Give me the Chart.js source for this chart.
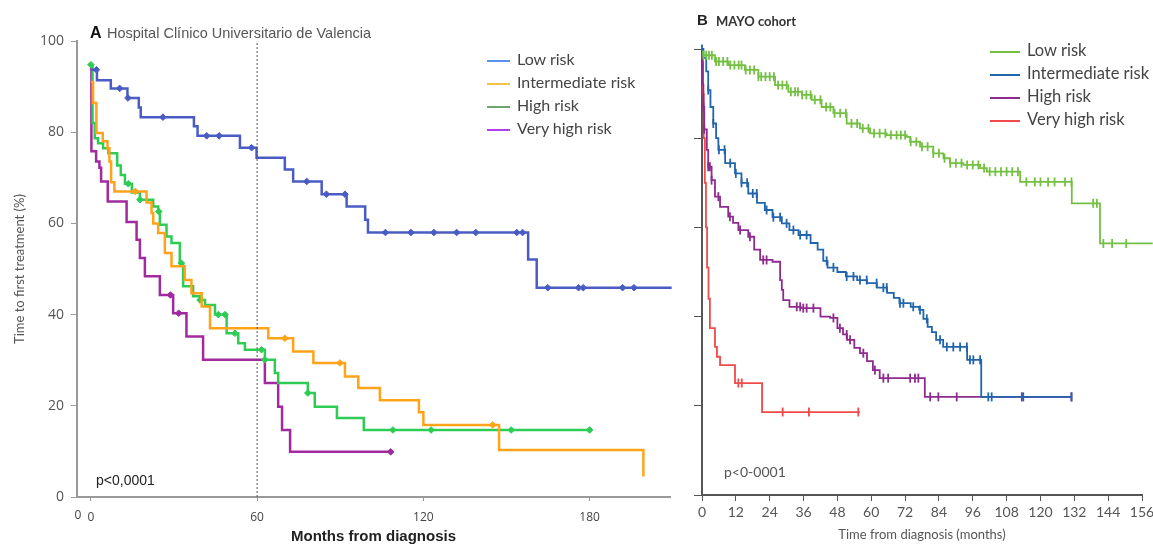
<!DOCTYPE html>
<html>
<head>
<meta charset="utf-8">
<script src="https://cdn.jsdelivr.net/npm/chart.js@4.4.1/dist/chart.umd.min.js"></script>
<style>
  body { margin: 0; background: #fff; width: 1153px; height: 546px; position: relative; overflow: hidden; }
  canvas { position: absolute; top: 0; }
  #chartA { left: 0; }
  #chartB { left: 683px; }
  .txt { position: absolute; white-space: nowrap; }
  .legend { position: absolute; font-family: Lato, sans-serif; color: #444; }
  .legend div { height: 23px; line-height: 23px; }
  .legend i { display: inline-block; height: 2px; vertical-align: middle; margin-right: 7px; }
</style>
</head>
<body>
<canvas id="chartA" width="683" height="546"></canvas>
<canvas id="chartB" width="480" height="546"></canvas>

<div class="txt" style="left:90px;top:24px;font:bold 16px 'Liberation Sans';color:#111">A</div>
<div class="txt" style="left:107px;top:25px;font:14.5px 'Liberation Sans';color:#555">Hospital Clínico Universitario de Valencia</div>
<div class="txt" style="left:96px;top:472px;font:14px 'Liberation Sans';color:#222">p&lt;0,0001</div>
<div class="legend" id="legendA" style="left:487px;top:47px;font-size:16px"></div>

<div class="txt" style="left:697px;top:11px;font:bold 15px 'Liberation Sans';color:#222">B</div>
<div class="txt" style="left:716px;top:13px;font:bold 13px Lato;color:#333">MAYO cohort</div>
<div class="txt" style="left:724px;top:463px;font:14px Lato;color:#555">p&lt;0-0001</div>
<div class="legend" id="legendB" style="left:990px;top:39px;font-size:16.5px"></div>

<script>
// Panel A: Hospital Clínico Universitario de Valencia, [month, % untreated]
const aLowSteps = [[0,93.7],[2.2,91.4],[7.2,89.6],[13.2,87.5],[17.3,85.4],[18,83.3],[37.2,81.3],[38.5,79.2],[53.8,76.6],[59.8,74.4],[70,71.8],[73,69.2],[83.3,66.4],[92.3,63.7],[99,60.8],[100,58],[157.8,52.1],[160.9,45.9],[209.6,45.9]];
const aLowCensored = [2,10.4,13.4,26,41.8,46.3,58,77.9,85,91.7,106.3,115.5,123.8,132,138.9,153.7,155.8,164.9,176,177.7,191.9,196];

const aIntSteps = [[0,91],[0.8,86.4],[2,79.8],[4.3,78],[6,76.5],[6.7,73.6],[7.3,69],[8.5,67],[20.1,64.6],[21.9,62.3],[22.5,60],[24.3,57.9],[26.7,53.5],[29.1,50.6],[33.9,47.6],[36.3,44.7],[40,41.8],[43,37],[64,34.8],[73,31.9],[80.3,29.4],[91.7,26.4],[96.5,23.9],[104.3,21.2],[118.4,18.6],[120,15.8],[147.3,10.3],[199.4,4.5]];
const aIntCensored = [16,70,89.9,145];

const aHighSteps = [[0,94.8],[0.6,82],[1.4,78.7],[2.6,77.6],[4.4,76.5],[6.3,75.4],[9.5,72.7],[10.8,70.6],[12.3,68.7],[14.8,66.8],[17.7,65.2],[22.5,63.7],[24.3,62.6],[24.9,59.7],[27.3,57.1],[29.1,55.7],[32.1,51.3],[33.3,46.2],[36.9,44],[39.4,43.2],[41.2,42.1],[44.8,40],[49,35.9],[53.2,33.7],[55.6,32.3],[62.8,30.1],[66.4,27.2],[67.6,25],[78.3,22.8],[80.8,19.8],[88.8,17.3],[98.5,14.7],[180.1,14.7]];
const aHighCensored = [0,13.5,17.7,24.5,32.6,39.4,46,48.4,52,61.6,62.8,78.3,109,122.8,151.7,180];

const aVeryHighSteps = [[0,94.5],[0.2,75.8],[1.9,73.6],[3.1,72.2],[3.7,69.2],[6.1,64.8],[12.9,60.3],[16.5,56.4],[17.7,52.4],[19.5,48.4],[24.9,44.3],[29.7,40.3],[34.5,35.2],[40.5,30.1],[62.8,25],[67.6,19.8],[69,14.7],[71.9,9.9],[108.2,9.9]];
const aVeryHighCensored = [28.7,31.7,108.2];

const aXTicks = [0, 60, 120, 180];
const aYTicks = [0, 20, 40, 60, 80, 100];
const aLandmark = 60;

// Panel B: MAYO cohort
const bLowSteps = [[0,99.4],[0.5,98.6],[4.6,97.2],[9.3,96.4],[15.2,95.3],[20,93.8],[25.9,91.9],[30.6,90.4],[35.4,89.7],[38.9,88.6],[42.4,87],[46.6,85.6],[51.3,83.3],[56,82.2],[59.6,81.1],[65.5,80.7],[72.6,80.3],[73.8,79.2],[77.3,78.1],[82,76.6],[85.6,75.5],[87.9,74.4],[92.7,74],[98.6,73.3],[101,72.5],[112.8,70.2],[131.1,65.4],[141.1,56.4],[159.8,56.4]];
const bLowCensored = [0.5,1.5,2.5,3.5,5,6,7.5,9,10,11.5,13,14,15.5,17,18.5,20,21,22.5,24,25.5,27,28.5,30,31.5,33,34,35.5,37,38.5,40,42,44,45.5,47,49,51,53,55,57,59,61,63,65,67,69,70.5,72,74,76,78,80,82,84,86,88,90,92,94,96,98,100,102,104,106,108,110,112,115,118,120,122.7,125,128.7,131,138.7,140,142.3,145.4,150.4];

const bIntSteps = [[0,100],[0.5,98],[1.5,95],[2.2,90.8],[3,87],[4,83.3],[5,80],[5.8,77.4],[8.2,74.4],[11.7,72.1],[14,70],[16.4,67.6],[19.5,65.5],[22.3,63.9],[25,62.3],[28.3,60.9],[31,59.4],[34.2,58.3],[38.5,56.5],[41,55],[43,52.5],[44.5,51],[48,50],[51,49],[55,48.2],[58.5,47.5],[62,46.5],[65.6,45.3],[68,44.2],[70,43],[74,42.2],[77,41.5],[78.5,39.5],[80,37.7],[81.5,36.5],[83,34.8],[85.5,33.2],[94,30.3],[99,22],[131,22]];
const bIntCensored = [0,2.2,4,6,8,10,12,14,16,18,19.4,22.9,25.3,27.7,30,32.4,34.8,37.1,44.2,46.6,51.3,53.7,56,58.4,61.9,64.3,65.5,70.2,71.4,74.9,77.3,79.7,84.4,86.8,89.1,91.5,93.9,95,96.2,98.6,101.5,102.7,113.9,131];

const bHighSteps = [[0,97],[0.3,92],[0.5,87],[0.8,82],[1.7,77.4],[2.2,73.6],[3.4,70.6],[4.6,66.9],[6.4,64.6],[9.3,62.4],[11,61],[12.9,59.4],[16.4,57.9],[18.5,55],[20.6,52.7],[25,52.3],[27.7,48.2],[28.3,46],[28.8,43.7],[31,42.2],[35,41.9],[42,40],[45.4,39.7],[48,37.4],[50,36],[51.4,34.8],[54,33],[56,31.8],[58.5,30],[60.6,28],[63,26.2],[79,22],[131,22]];
const bHighCensored = [0.1,0.5,0.8,2.2,2.8,3.4,5.8,9.9,13.5,17,21.7,22.9,33.6,34.8,35.9,37.1,39.5,46.6,48.9,51.3,52.5,57.2,61.3,64.3,66,73.8,75.5,76.7,80.9,83.8,90.3,113.4,131];

const bVeryHighSteps = [[0,100],[0.3,90],[0.6,80],[1,70],[1.4,60],[1.8,51],[2.3,44],[2.8,37.4],[4.6,33.2],[5.3,31],[6.4,29.1],[11.7,25.1],[21.3,18.6],[56,18.6]];
const bVeryHighCensored = [12.9,14.1,28.6,37.9,55.4];

const bXTicks = [0,12,24,36,48,60,72,84,96,108,120,132,144,156];
const bYTicks = [0, 20, 40, 60, 80, 100];

const riskLabels = ['Low risk', 'Intermediate risk', 'High risk', 'Very high risk'];
const aColors = ['#4a5cc4', '#ffa31a', '#2ecc55', '#a02a9e'];
const aLegendColors = ['#5b8ff0', '#f2c246', '#6aa86a', '#b040ee'];
const bColors = ['#74c043', '#2166ad', '#8e2b8e', '#f04b4b'];

// value of a Kaplan-Meier step curve at time t
function survivalAt(steps, t) {
  let v = steps[0][1];
  for (const [m, s] of steps) if (m <= t) v = s;
  return v;
}

function curve(steps, color, width) {
  return {
    data: steps.map(([x, y]) => ({ x, y })),
    stepped: 'before', borderColor: color, borderWidth: width,
    pointRadius: 0, fill: false, clip: false
  };
}

function censorMarks(steps, times, color, style, radius, width) {
  return {
    data: times.map(t => ({ x: t, y: survivalAt(steps, t) })),
    showLine: false, pointStyle: style, pointRadius: radius, pointRotation: style === 'line' ? 90 : 0,
    pointBorderWidth: width, borderColor: color, backgroundColor: color, clip: false
  };
}

function legend(id, colors, swatch) {
  document.getElementById(id).innerHTML = riskLabels.map((l, i) =>
    `<div><i style="width:${swatch}px;background:${colors[i]}"></i>${l}</div>`).join('');
}
legend('legendA', aLegendColors, 23);
legend('legendB', bColors, 30);

// stray origin label under the x axis of panel A
const originLabel = {
  id: 'originLabel',
  afterDraw(chart) {
    const x = chart.scales.x, ctx = chart.ctx;
    ctx.save();
    ctx.font = '12px "Open Sans"';
    ctx.fillStyle = '#444';
    ctx.textAlign = 'center';
    ctx.textBaseline = 'top';
    ctx.fillText('0', x.getPixelForValue(x.min) + 1, x.top + 13);
    ctx.restore();
  }
};

const aSets = [aLowSteps, aIntSteps, aHighSteps, aVeryHighSteps];
const aCens = [aLowCensored, aIntCensored, aHighCensored, aVeryHighCensored];
const datasetsA = [{
  data: [{ x: aLandmark, y: 0 }, { x: aLandmark, y: 100 }],
  borderColor: '#555', borderWidth: 1, borderDash: [2, 2], pointRadius: 0
}];
aSets.forEach((s, i) => {
  datasetsA.push(curve(s, aColors[i], 2.5));
  datasetsA.push(censorMarks(s, aCens[i], aColors[i], 'rectRot', 3.3, 1));
});

new Chart(document.getElementById('chartA'), {
  type: 'line',
  data: { datasets: datasetsA },
  plugins: [originLabel],
  options: {
    responsive: false, animation: false,
    layout: { padding: { top: 41, right: 13, left: 0, bottom: 0 } },
    plugins: { legend: { display: false }, tooltip: { enabled: false } },
    scales: {
      x: {
        type: 'linear', min: -5, max: 209,
        afterBuildTicks: s => { s.ticks = aXTicks.map(v => ({ value: v })); },
        afterFit: s => { s.height = 49; },
        ticks: { font: { family: 'Open Sans', size: 12 }, color: '#444', padding: 9, maxRotation: 0 },
        grid: { drawOnChartArea: false, tickLength: 4, color: '#999' },
        border: { color: '#999', width: 2 },
        title: { display: true, text: 'Months from diagnosis', color: '#222',
          font: { family: 'Liberation Sans', size: 15, weight: 'bold' }, padding: { top: 0, bottom: 0 } }
      },
      y: {
        min: 0, max: 100,
        afterBuildTicks: s => { s.ticks = aYTicks.map(v => ({ value: v })); },
        afterFit: s => { s.width = 77; },
        ticks: { font: { family: 'Open Sans', size: 14 }, color: '#555', padding: 7 },
        grid: { drawOnChartArea: false, tickLength: 6, color: '#999' },
        border: { color: '#999', width: 2 },
        title: { display: true, text: 'Time to first treatment (%)', color: '#555',
          font: { family: 'Lato', size: 13 }, padding: { top: 12, bottom: 0 } }
      }
    }
  }
});

const bSets = [bLowSteps, bIntSteps, bHighSteps, bVeryHighSteps];
const bCens = [bLowCensored, bIntCensored, bHighCensored, bVeryHighCensored];
const datasetsB = [];
bSets.forEach((s, i) => {
  datasetsB.push(curve(s, bColors[i], 1.8));
  datasetsB.push(censorMarks(s, bCens[i], bColors[i], 'line', 4.5, 1.8));
});

new Chart(document.getElementById('chartB'), {
  type: 'line',
  data: { datasets: datasetsB },
  options: {
    responsive: false, animation: false,
    layout: { padding: { top: 49, right: 21, left: 0, bottom: 0 } },
    plugins: { legend: { display: false }, tooltip: { enabled: false } },
    scales: {
      x: {
        type: 'linear', min: 0, max: 156,
        afterBuildTicks: s => { s.ticks = bXTicks.map(v => ({ value: v })); },
        afterFit: s => { s.height = 51; },
        ticks: { font: { family: 'Lato', size: 14 }, color: '#555', padding: 3, maxRotation: 0, autoSkip: false },
        grid: { drawOnChartArea: false, tickLength: 6, color: '#555' },
        border: { color: '#555', width: 2 },
        title: { display: true, text: 'Time from diagnosis (months)', color: '#555',
          font: { family: 'Lato', size: 13 }, padding: { top: 0, bottom: 3 } }
      },
      y: {
        min: 0, max: 100,
        afterBuildTicks: s => { s.ticks = bYTicks.map(v => ({ value: v })); },
        afterFit: s => { s.width = 19; },
        ticks: { callback: () => '' },
        grid: { drawOnChartArea: false, tickLength: 8, color: '#555' },
        border: { color: '#555', width: 2 }
      }
    }
  }
});
</script>
</body>
</html>
